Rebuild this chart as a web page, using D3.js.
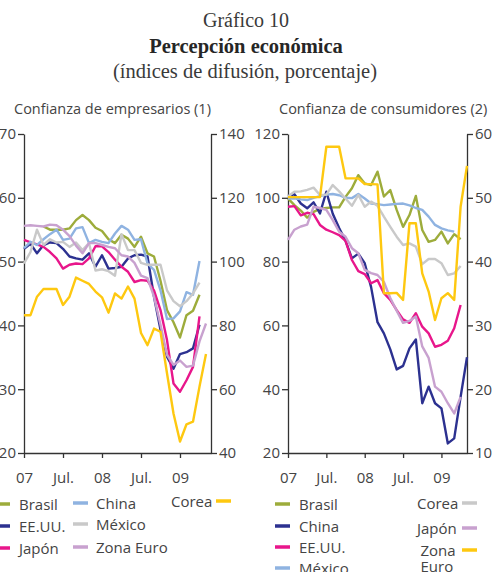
<!DOCTYPE html>
<html>
<head>
<meta charset="utf-8">
<script src="https://cdn.jsdelivr.net/npm/d3@7"></script>
<style>
  body { margin: 0; background: #fff; }
  svg { display: block; }
  text { font-family: "Open Sans", sans-serif; fill: #444; }
  text.serif { font-family: "Liberation Serif", serif; }
</style>
</head>
<body>
<svg id="chart" width="503" height="572"></svg>
<script>
// ---- data (monthly, Jan 2007 onwards) ----
var tickMonths = [0, 6, 12, 18, 24];
var tickLabels = ["07", "Jul.", "08", "Jul.", "09"];

// Confianza de empresarios (China and Corea on the right axis)
var empBrasil = [null, null, null, 55.5, 55.0, 55.0, 55.0, 55.2, 56.5, 57.3, 56.5, 55.3, 54.8, 53.5, 52.9, 54.2, 53.6, 52.3, 53.9, 51.3, 50.8, 47.0, 42.4, 40.5, 38.1, 41.6, 42.3, 44.8];
var empEEUU = [52.0, 52.8, 51.3, 52.6, 53.0, 52.9, 52.0, 50.8, 50.5, 50.3, 51.3, 49.2, 51.0, 48.9, 49.0, 49.2, 50.5, 51.0, 51.1, 50.8, 44.5, 39.3, 35.1, 33.2, 35.5, 35.8, 36.4, 40.1];
var empJapon = [53.4, 53.0, 52.7, 52.3, 51.5, 50.5, 48.9, 49.5, 49.7, 49.6, 50.5, 52.4, 52.4, 51.5, 50.3, 49.2, 48.4, 46.8, 47.1, 47.0, 45.5, 42.4, 37.7, 30.9, 29.6, 31.4, 33.5, 41.4];
var empChina = [104.2, 106.2, 105.2, 107.0, 108.6, 110.0, 106.8, 107.2, 110.4, 110.8, 105.8, 106.8, 106.2, 105.8, 108.8, 111.2, 110.0, 106.8, 107.0, 99.4, 97.4, 91.0, 82.0, 82.2, 84.4, 90.4, 89.6, 100.2];
var empMexico = [49.7, 51.5, 55.0, 52.6, 53.5, 53.0, 53.1, 52.3, 53.0, 51.8, 52.9, 48.6, 48.8, 48.5, 47.8, 54.3, 51.8, 51.8, 49.8, 49.5, 49.5, 49.5, 45.5, 43.8, 43.0, 43.8, 45.0, 46.7];
var empZonaEuro = [55.6, 55.7, 55.6, 55.5, 55.8, 55.7, 55.0, 54.0, 52.5, 51.3, 52.9, 52.9, 52.6, 52.3, 52.1, 51.0, 50.8, 49.8, 47.8, 47.4, 44.5, 40.1, 35.4, 33.8, 34.5, 33.5, 33.7, 37.5, 40.3];
var empCorea = [83.2, 83.2, 89.0, 91.4, 91.4, 91.4, 86.4, 89.0, 95.0, 94.0, 93.0, 90.6, 88.8, 84.0, 90.0, 88.4, 92.2, 88.4, 77.6, 73.8, 79.0, 78.0, 65.0, 52.4, 43.6, 49.0, 49.8, 60.8, 71.0];

// Confianza de consumidores (Japón on the right axis)
var conBrasil = [99.8, 97.7, 96.0, 93.8, 95.6, 96.5, 96.8, 97.0, 97.0, 100.3, 103.0, 107.1, 104.5, 104.0, 108.2, 100.4, 102.4, 96.2, 90.9, 94.6, 100.6, 89.9, 86.2, 86.8, 89.4, 85.7, 88.6, 87.0];
var conChina = [100.6, 101.1, 98.2, 96.7, 98.6, 95.1, 101.9, 95.0, 90.5, 86.5, 81.0, 82.5, 79.5, 72.0, 61.0, 57.5, 52.5, 46.2, 47.3, 52.8, 55.6, 35.6, 40.8, 35.6, 34.0, 23.0, 24.6, 37.6, 50.0];
var conEEUU = [97.2, 97.4, 94.5, 95.3, 94.9, 91.5, 90.0, 89.2, 88.3, 86.5, 80.5, 77.0, 76.1, 73.2, 74.2, 70.1, 68.0, 64.8, 61.9, 60.8, 63.8, 59.6, 57.5, 53.3, 53.9, 55.2, 59.1, 66.4];
var conMexico = [99.8, 99.8, 99.5, 99.3, 100.0, 100.5, 101.0, 101.2, 100.8, 100.0, 99.9, 101.2, 99.8, 98.2, 98.0, 97.7, 97.9, 98.1, 98.2, 97.6, 96.8, 96.2, 94.1, 91.5, 90.4, 89.8, 89.4];
var conCorea = [100.4, 101.9, 102.0, 102.5, 103.2, 100.9, 101.0, 104.0, 102.0, 99.8, 97.5, 100.9, 97.2, 98.8, 97.5, 94.1, 90.9, 87.8, 85.2, 85.7, 84.7, 79.2, 80.8, 80.8, 79.5, 75.8, 76.3, 78.6];
var conJapon = [43.4, 45.0, 45.5, 45.8, 48.6, 48.4, 48.1, 46.5, 44.7, 43.9, 42.1, 41.3, 38.7, 38.2, 37.9, 36.8, 34.3, 32.3, 30.4, 30.7, 31.4, 26.7, 24.9, 20.4, 19.6, 17.8, 16.2, 18.8];
var conZonaEuro = [100.2, 100.2, 100.2, 100.2, 100.2, 100.2, 116.0, 116.0, 116.0, 106.1, 106.1, 106.1, 104.3, 104.3, 104.2, 70.1, 70.1, 70.2, 68.0, 92.0, 92.0, 76.3, 70.6, 61.7, 68.5, 70.1, 68.0, 97.2, 110.0];

//colours
var cOlive = '#9dac3b', cNavy = '#2c3190', cMagenta = '#e8168b', cBlue = '#8fb3e1',
  cGray = '#c9c9c9', cLilac = '#c8a1cf', cYellow = '#fec810';

var svg = d3.select('#chart');

//=========== title ===========//
var title = svg.append('g').attr('text-anchor', 'middle');
title.append('text').attr('class', 'serif').attr('x', 246).attr('y', 27)
  .style('font-size', '20px').style('fill', '#3a3a3a').text('Gráfico 10');
title.append('text').attr('class', 'serif').attr('x', 246).attr('y', 52.5)
  .style('font-size', '20.5px').style('font-weight', 'bold').style('fill', '#262626').text('Percepción económica');
title.append('text').attr('class', 'serif').attr('x', 245).attr('y', 78)
  .style('font-size', '20.5px').style('fill', '#3a3a3a').text('(índices de difusión, porcentaje)');

//=========== panels ===========//
var panels = [
  {
    title: 'Confianza de empresarios (1)', titleX: 14,
    x0: 24, x1: 211, xMax: 28.77,
    left: [20, 70], leftTicks: [20, 30, 40, 50, 60, 70],
    right: [40, 140], rightTicks: [40, 60, 80, 100, 120, 140],
    series: [
      {name: 'Brasil', values: empBrasil, color: cOlive, axis: 'L'},
      {name: 'EE.UU.', values: empEEUU, color: cNavy, axis: 'L'},
      {name: 'Japón', values: empJapon, color: cMagenta, axis: 'L'},
      {name: 'China', values: empChina, color: cBlue, axis: 'R'},
      {name: 'México', values: empMexico, color: cGray, axis: 'L'},
      {name: 'Zona Euro', values: empZonaEuro, color: cLilac, axis: 'L'},
      {name: 'Corea', values: empCorea, color: cYellow, axis: 'R'}
    ],
    legend: [
      {s: 0, sx: -5, tx: 19, y: 504}, {s: 1, sx: -5, tx: 19, y: 526}, {s: 2, sx: -5, tx: 19, y: 548},
      {s: 3, sx: 73, tx: 96, y: 503}, {s: 4, sx: 73, tx: 96, y: 524}, {s: 5, sx: 73, tx: 96, y: 547},
      {s: 6, sx: 216, tx: 171, y: 501}
    ]
  },
  {
    title: 'Confianza de consumidores (2)', titleX: 279,
    x0: 288, x1: 467, xMax: 28,
    left: [20, 120], leftTicks: [20, 40, 60, 80, 100, 120],
    right: [10, 60], rightTicks: [10, 20, 30, 40, 50, 60],
    series: [
      {name: 'Brasil', values: conBrasil, color: cOlive, axis: 'L'},
      {name: 'China', values: conChina, color: cNavy, axis: 'L'},
      {name: 'EE.UU.', values: conEEUU, color: cMagenta, axis: 'L'},
      {name: 'México', values: conMexico, color: cBlue, axis: 'L'},
      {name: 'Corea', values: conCorea, color: cGray, axis: 'L'},
      {name: 'Japón', values: conJapon, color: cLilac, axis: 'R'},
      {name: 'Zona Euro', values: conZonaEuro, color: cYellow, axis: 'L'}
    ],
    legend: [
      {s: 0, sx: 275, tx: 299, y: 504}, {s: 1, sx: 275, tx: 299, y: 526},
      {s: 2, sx: 275, tx: 299, y: 547}, {s: 3, sx: 275, tx: 299, y: 568},
      {s: 4, sx: 462, tx: 417, y: 503}, {s: 5, sx: 462, tx: 417, y: 528},
      {s: 6, sx: 462, tx: 420.5, y: 550, two: true}
    ]
  }
];

var yTop = 134, yBottom = 453;

panels.forEach(function(p) {
  var g = svg.append('g');

  var x = d3.scaleLinear().domain([0, p.xMax]).range([p.x0, p.x1]);
  var yL = d3.scaleLinear().domain(p.left).range([yBottom, yTop]);
  var yR = d3.scaleLinear().domain(p.right).range([yBottom, yTop]);

  g.append('text')
    .attr('x', p.titleX).attr('y', 114)
    .style('font-size', '14.5px')
    .text(p.title);

  //axes
  var axL = g.append('g').attr('transform', 'translate(' + p.x0 + ',0)')
    .call(d3.axisLeft(yL).tickValues(p.leftTicks).tickSize(6).tickSizeOuter(0).tickPadding(2));
  var axR = g.append('g').attr('transform', 'translate(' + p.x1 + ',0)')
    .call(d3.axisRight(yR).tickValues(p.rightTicks).tickSize(6).tickSizeOuter(0).tickPadding(2));
  var axB = g.append('g').attr('transform', 'translate(0,' + yBottom + ')')
    .call(d3.axisBottom(x).tickValues(tickMonths)
      .tickFormat(function(d, i) { return tickLabels[i]; })
      .tickSize(5).tickSizeOuter(0).tickPadding(14));

  [axL, axR, axB].forEach(function(a) {
    a.selectAll('path, line').style('stroke', '#333').style('stroke-width', 1.3);
    a.selectAll('text').style('font-size', '15px').style('fill', '#444')
      .style('font-family', '"Open Sans", sans-serif');
  });

  //lines
  p.series.forEach(function(s) {
    var y = s.axis === 'L' ? yL : yR;
    var line = d3.line()
      .defined(function(d) { return d != null; })
      .x(function(d, i) { return x(i); })
      .y(function(d) { return y(d); });
    g.append('path')
      .datum(s.values)
      .attr('d', line)
      .style('fill', 'none')
      .style('stroke', s.color)
      .style('stroke-width', 2.4)
      .style('stroke-linejoin', 'round');
  });

  //legend
  p.legend.forEach(function(l) {
    var s = p.series[l.s];
    g.append('line')
      .attr('x1', l.sx).attr('x2', l.sx + 15)
      .attr('y1', l.y).attr('y2', l.y)
      .style('stroke', s.color).style('stroke-width', 3.5);
    var t = g.append('text')
      .attr('x', l.tx).attr('y', l.y + 5.5)
      .style('font-size', '15px');
    if (l.two) {
      var parts = s.name.split(' ');
      t.text(parts[0]);
      g.append('text').attr('x', l.tx).attr('y', l.y + 22)
        .style('font-size', '15px').text(parts[1]);
    } else {
      t.text(s.name);
    }
  });
});
</script>
</body>
</html>
